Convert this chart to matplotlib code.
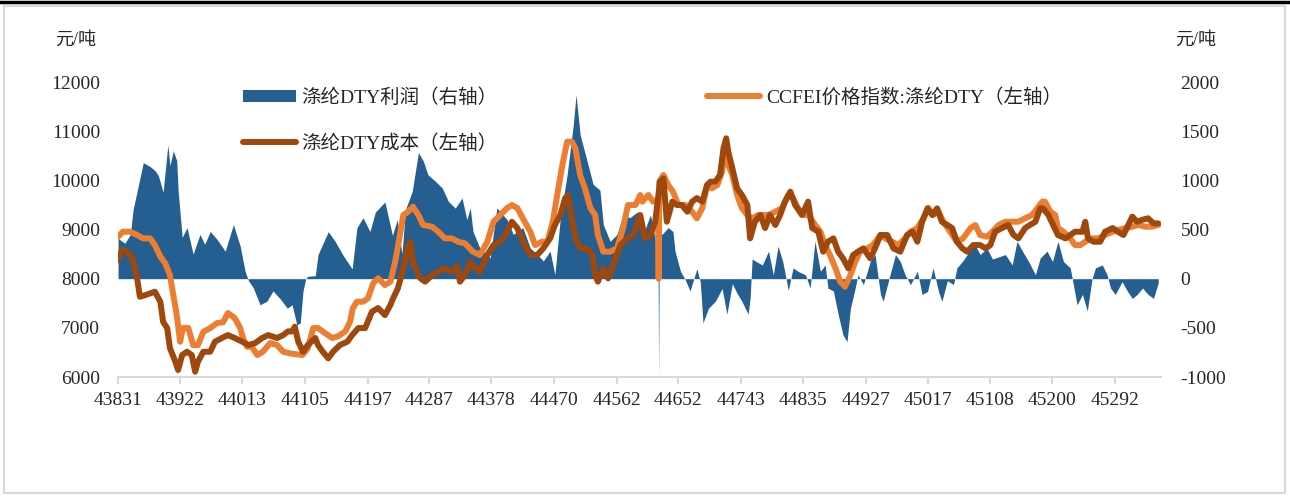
import matplotlib.pyplot as plt
from matplotlib.lines import Line2D
from matplotlib.patches import Rectangle

# 涤纶DTY利润（右轴）, Excel 日期序号
profit_dates = [43831, 43841, 43849, 43853, 43868, 43878, 43885, 43890, 43897, 43904, 43907, 43912,
                43917, 43919, 43925, 43932, 43941, 43951, 43958, 43966, 43976, 43988, 44000, 44010,
                44017, 44022, 44029, 44039, 44049, 44058, 44068, 44079, 44086, 44093, 44098, 44102,
                44106, 44109, 44120, 44124, 44139, 44149, 44161, 44174, 44181, 44190, 44200, 44208,
                44222, 44233, 44240, 44247, 44252, 44262, 44271, 44278, 44285, 44296, 44306, 44315,
                44325, 44335, 44342, 44347, 44351, 44361, 44376, 44386, 44401, 44410, 44424, 44435,
                44445, 44454, 44464, 44471, 44479, 44489, 44498, 44502, 44508, 44518, 44527, 44537,
                44542, 44552, 44562, 44571, 44581, 44592, 44603, 44611, 44618, 44622, 44623, 44624,
                44628, 44637, 44644, 44647, 44655, 44662, 44669, 44679, 44684, 44688, 44696, 44706,
                44716, 44723, 44731, 44738, 44745, 44754, 44757, 44760, 44767, 44775, 44784, 44791,
                44798, 44805, 44813, 44820, 44827, 44838, 44845, 44852, 44860, 44867, 44871, 44879,
                44886, 44893, 44899, 44904, 44911, 44915, 44923, 44933, 44940, 44948, 44952, 44962,
                44970, 44977, 44984, 44992, 45002, 45009, 45017, 45025, 45033, 45038, 45046, 45055,
                45060, 45068, 45075, 45084, 45094, 45104, 45112, 45131, 45141, 45148, 45156, 45165,
                45175, 45182, 45192, 45200, 45208, 45216, 45226, 45229, 45236, 45244, 45251, 45258,
                45263, 45273, 45280, 45285, 45292, 45302, 45310, 45317, 45324, 45332, 45340, 45348,
                45355]
profit_vals = [410, 360, 450, 700, 1180, 1140, 1100, 1050, 880, 1360, 1150, 1300,
               1200, 900, 420, 520, 250, 450, 350, 480, 400, 280, 550, 330,
               80, -20, -90, -265, -230, -125, -200, -300, -265, -470, -450, -125,
               0, 25, 30, 245, 478, 380, 234, 100, 519, 620, 480, 678,
               780, 440, 600, 250, 700, 888, 1281, 1200, 1057, 990, 922, 786,
               718, 820, 600, 720, 480, 312, 210, 720, 600, 450, 520, 310,
               250, 180, 280, 40, 620, 1060, 1566, 1870, 1464, 1200, 960, 900,
               549, 380, 450, 650, 620, 680, 500, 650, 400, 400, -1000, 500,
               450, 520, 480, 280, 75, -10, -125, 100, -30, -450, -300, -230,
               -100, -360, -50, -150, -230, -360, -200, 200, 170, 140, 280, 40,
               330, 170, -120, 110, 75, 40, -95, 380, 75, 140, -95, -125,
               -360, -570, -640, -300, -95, 40, -60, 175, 245, -160, -230, 40,
               245, 175, 40, -60, 75, -160, -130, 110, -130, -230, -20, -60,
               110, 175, 245, 380, 245, 310, 200, 245, 140, 380, 280, 175,
               40, 210, 280, 175, 380, 175, 110, 0, -265, -160, -330, 0,
               110, 140, 40, -95, -160, -30, -130, -200, -160, -95, -160, -200,
               -40]

# CCFEI价格指数:涤纶DTY（左轴）
price_dates = [43831, 43838, 43849, 43859, 43868, 43878, 43885, 43893, 43900, 43907, 43912, 43917,
               43922, 43926, 43934, 43941, 43948, 43956, 43966, 43976, 43985, 43992, 44002, 44010,
               44014, 44020, 44027, 44035, 44043, 44054, 44064, 44073, 44083, 44101, 44109, 44117,
               44124, 44134, 44145, 44153, 44164, 44171, 44175, 44181, 44190, 44197, 44205, 44212,
               44222, 44230, 44237, 44244, 44249, 44256, 44263, 44271, 44278, 44291, 44300, 44310,
               44320, 44329, 44339, 44351, 44361, 44372, 44381, 44391, 44401, 44408, 44416, 44424,
               44435, 44442, 44452, 44460, 44468, 44476, 44482, 44489, 44496, 44501, 44508, 44515,
               44523, 44530, 44534, 44542, 44552, 44562, 44571, 44578, 44589, 44596, 44599, 44608,
               44615, 44622, 44623, 44624, 44630, 44637, 44644, 44652, 44662, 44672, 44679, 44687,
               44694, 44701, 44709, 44716, 44720, 44725, 44731, 44738, 44745, 44753, 44760, 44769,
               44776, 44784, 44794, 44804, 44813, 44820, 44827, 44835, 44842, 44852, 44860, 44867,
               44874, 44882, 44889, 44896, 44904, 44911, 44918, 44929, 44937, 44948, 44955, 44965,
               44974, 44984, 44992, 45002, 45011, 45018, 45025, 45033, 45040, 45050, 45060, 45069,
               45080, 45087, 45094, 45104, 45112, 45121, 45131, 45141, 45150, 45160, 45170, 45178,
               45185, 45189, 45197, 45204, 45208, 45216, 45226, 45233, 45241, 45248, 45258, 45267,
               45277, 45288, 45296, 45307, 45317, 45326, 45336, 45346, 45355]
price_vals = [8853, 8955, 8955, 8888, 8820, 8820, 8684, 8447, 8318, 8074, 7667, 7260,
              6718, 6996, 6996, 6650, 6650, 6921, 6996, 7098, 7115, 7301, 7200, 6996,
              6793, 6616, 6616, 6447, 6514, 6691, 6650, 6514, 6480, 6447, 6580, 6996,
              6996, 6894, 6793, 6826, 6928, 7125, 7403, 7532, 7532, 7600, 7911, 8007,
              7871, 7939, 8345, 8888, 9295, 9362, 9464, 9295, 9092, 9058, 8955, 8820,
              8820, 8752, 8720, 8549, 8481, 8752, 9158, 9295, 9437, 9498, 9437, 9228,
              8955, 8684, 8752, 8752, 9158, 9837, 10312, 10786, 10786, 10650, 10108, 9837,
              9437, 9295, 8888, 8549, 8549, 8617, 9030, 9498, 9498, 9702, 9566, 9702,
              9566, 9600, 8000, 9973, 10108, 9905, 9769, 9498, 9498, 9362, 9228, 9437,
              9905, 9837, 9905, 10176, 10583, 10312, 10108, 9702, 9437, 9295, 9228, 9295,
              9295, 9295, 9362, 9437, 9702, 9640, 9437, 9295, 9300, 9100, 8955, 8684,
              8481, 8216, 7939, 7837, 8074, 8345, 8549, 8617, 8684, 8888, 8820, 8752,
              8684, 8820, 8955, 9030, 9228, 9437, 9295, 9362, 9158, 8955, 8752, 8820,
              9030, 9092, 8888, 8853, 8955, 9092, 9158, 9158, 9158, 9228, 9295, 9437,
              9566, 9566, 9362, 9295, 9030, 8955, 8820, 8684, 8684, 8752, 8820, 8820,
              8888, 8955, 8990, 9030, 9058, 9092, 9058, 9058, 9092]

# 涤纶DTY成本（左轴）
cost_dates = [43831, 43837, 43844, 43852, 43859, 43863, 43871, 43878, 43885, 43893, 43897, 43903,
              43907, 43915, 43919, 43925, 43932, 43939, 43944, 43948, 43956, 43966, 43973, 43983,
              43992, 44002, 44013, 44022, 44032, 44042, 44051, 44064, 44073, 44080, 44086, 44090,
              44095, 44102, 44109, 44120, 44124, 44131, 44139, 44146, 44156, 44167, 44174, 44183,
              44193, 44203, 44212, 44222, 44230, 44234, 44241, 44249, 44255, 44259, 44263, 44269,
              44274, 44281, 44291, 44300, 44310, 44320, 44328, 44332, 44339, 44347, 44354, 44361,
              44372, 44381, 44391, 44401, 44408, 44416, 44424, 44435, 44445, 44454, 44464, 44471,
              44479, 44486, 44490, 44496, 44501, 44508, 44518, 44526, 44530, 44534, 44542, 44549,
              44556, 44567, 44577, 44586, 44596, 44603, 44611, 44618, 44625, 44630, 44635, 44643,
              44650, 44657, 44665, 44672, 44679, 44687, 44694, 44699, 44706, 44713, 44718, 44722,
              44725, 44731, 44738, 44745, 44753, 44757, 44764, 44772, 44779, 44786, 44794, 44801,
              44808, 44816, 44823, 44833, 44842, 44848, 44857, 44864, 44871, 44879, 44886, 44893,
              44901, 44908, 44915, 44923, 44933, 44940, 44948, 44958, 44967, 44977, 44987, 44995,
              45002, 45009, 45017, 45024, 45031, 45038, 45046, 45053, 45060, 45068, 45075, 45084,
              45094, 45102, 45109, 45116, 45126, 45135, 45143, 45150, 45160, 45167, 45175, 45182,
              45186, 45194, 45201, 45208, 45219, 45226, 45233, 45244, 45248, 45252, 45260, 45270,
              45277, 45288, 45296, 45304, 45311, 45317, 45324, 45332, 45340, 45348, 45355]
cost_vals = [8380, 8583, 8550, 8420, 8007, 7633, 7667, 7700, 7735, 7532, 7125, 6996,
             6590, 6311, 6142, 6447, 6514, 6447, 6108, 6311, 6514, 6514, 6718, 6793,
             6853, 6793, 6718, 6650, 6691, 6793, 6853, 6793, 6853, 6928, 6928, 7024,
             6718, 6514, 6650, 6793, 6650, 6514, 6380, 6514, 6650, 6718, 6853, 6996,
             6996, 7329, 7403, 7260, 7464, 7600, 7803, 8210, 8617, 8752, 8345, 8142,
             8007, 7939, 8074, 8142, 8210, 8142, 8250, 7939, 8074, 8345, 8210, 8142,
             8481, 8684, 8752, 8955, 9158, 9030, 8752, 8481, 8481, 8617, 8820, 9092,
             9295, 9634, 9702, 9228, 8820, 8617, 8617, 8481, 8074, 7939, 8210, 8007,
             8250, 8684, 8820, 8888, 9295, 8820, 8888, 9158, 9973, 10040, 9158, 9566,
             9498, 9498, 9362, 9566, 9640, 9566, 9905, 9973, 9973, 10108, 10650, 10855,
             10583, 10244, 9837, 9702, 9498, 8820, 9158, 9295, 9030, 9295, 9092, 9295,
             9566, 9769, 9498, 9295, 9566, 9030, 8955, 8549, 8752, 8820, 8549, 8414,
             8210, 8481, 8549, 8617, 8414, 8617, 8888, 8888, 8617, 8549, 8888, 8955,
             8752, 9158, 9431, 9295, 9431, 9158, 9092, 9030, 8752, 8617, 8549, 8684,
             8684, 8617, 8684, 8955, 9030, 9092, 8888, 8820, 9030, 9092, 9158, 9431,
             9431, 9295, 9092, 8888, 8820, 8888, 8955, 8955, 9158, 8820, 8752, 8752,
             8955, 9030, 8955, 8888, 9092, 9262, 9158, 9200, 9228, 9125, 9125]

x_ticks = [43831, 43922, 44013, 44105, 44197, 44287, 44378, 44470, 44562, 44652,
           44743, 44835, 44927, 45017, 45108, 45200, 45292]
left_ticks = [6000, 7000, 8000, 9000, 10000, 11000, 12000]
right_ticks = [-1000, -500, 0, 500, 1000, 1500, 2000]

blue = '#255E91'
orange = '#ED7D31'
brown = '#9E480E'

plt.rcParams['font.family'] = ['Liberation Serif', 'Noto Sans CJK SC', 'DejaVu Sans']
plt.rcParams['axes.unicode_minus'] = False

fig = plt.figure(figsize=(12.9, 4.97), dpi=100)
ax = fig.add_axes([0.0915, 0.2414, 0.8085, 0.5936])
ax2 = ax.twinx()

fill = ax2.fill_between(profit_dates, 0, profit_vals, color=blue, lw=0,
                        label='涤纶DTY利润（右轴）')
l1, = ax.plot(price_dates, price_vals, color=orange, lw=4.3, solid_capstyle='round',
              solid_joinstyle='round', label='CCFEI价格指数:涤纶DTY（左轴）')
l2, = ax.plot(cost_dates, cost_vals, color=brown, lw=4.3, solid_capstyle='round',
              solid_joinstyle='round', label='涤纶DTY成本（左轴）')

# 折线放到面积图上面
ax.set_zorder(ax2.get_zorder() + 1)
ax.patch.set_visible(False)

ax.set_xlim(43831, 45359)
ax.set_ylim(6000, 12000)
ax2.set_ylim(-1000, 2000)

ax.set_xticks(x_ticks)
ax.set_xticklabels([str(t) for t in x_ticks])
ax.set_yticks(left_ticks)
ax2.set_yticks(right_ticks)

for a in (ax, ax2):
    for s in ('top', 'left', 'right', 'bottom'):
        a.spines[s].set_visible(False)
ax.spines['bottom'].set_visible(True)
ax.spines['bottom'].set_color('#d9d9d9')
ax.spines['bottom'].set_linewidth(1.5)

ax.tick_params(axis='x', direction='out', length=5, width=1.5, color='#d9d9d9',
               labelsize=14, pad=6, labelcolor='#262626')
ax.tick_params(axis='y', length=0, labelsize=14, pad=13, labelcolor='#262626')
ax2.tick_params(axis='y', length=0, labelsize=14, pad=14, labelcolor='#262626')

fig.text(55 / 1290, 1 - 40 / 497, '元/吨', fontsize=13, va='center', ha='left', color='#262626')
fig.text(1175 / 1290, 1 - 40 / 497, '元/吨', fontsize=13, va='center', ha='left', color='#262626')

leg = fig.legend([fill, l2, l1],
                 ['涤纶DTY利润（右轴）', '涤纶DTY成本（左轴）', 'CCFEI价格指数:涤纶DTY（左轴）'],
                 ncol=2, loc='upper left', bbox_to_anchor=(243 / 1290, 1 - 88 / 497),
                 frameon=False, fontsize=14, borderpad=0, borderaxespad=0,
                 handlelength=2.7, handleheight=0.6, handletextpad=0.3,
                 labelspacing=1.4, columnspacing=10.8)
for t in leg.get_texts():
    t.set_color('#262626')

# 外框
fig.add_artist(Rectangle((4 / 1290, 4 / 497), 1281 / 1290, 487 / 497, transform=fig.transFigure,
                         fill=False, edgecolor='#d9d9d9', lw=1.5))
fig.add_artist(Line2D([0, 1], [1 - 1.5 / 497, 1 - 1.5 / 497], transform=fig.transFigure,
                      color='black', lw=2.5))

fig.savefig('out.png', dpi=100)
